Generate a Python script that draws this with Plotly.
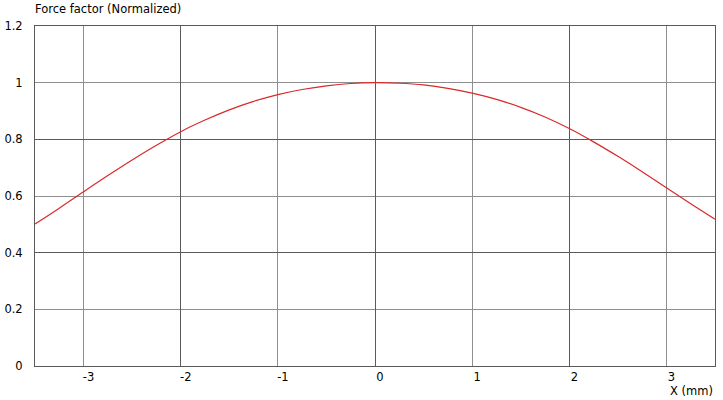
import plotly.graph_objects as go

# Force factor vs displacement
x_mm = [-3.5, -3.25, -3.0, -2.75, -2.5, -2.25, -2.0, -1.75, -1.5, -1.25,
        -1.0, -0.75, -0.5, -0.25, 0.0, 0.25, 0.5, 0.75, 1.0, 1.25,
        1.5, 1.75, 2.0, 2.25, 2.5, 2.75, 3.0, 3.25, 3.5]
force = [0.501, 0.557, 0.615, 0.672, 0.727, 0.779, 0.827, 0.868, 0.904, 0.934,
         0.958, 0.976, 0.989, 0.997, 1.000, 0.998, 0.992, 0.980, 0.963, 0.941,
         0.913, 0.879, 0.838, 0.791, 0.740, 0.686, 0.629, 0.573, 0.518]

x_ticks = [-3, -2, -1, 0, 1, 2, 3]
x_labels = ["-3", "-2", "-1", "0", "1", "2", "3"]
y_ticks = [0, 0.2, 0.4, 0.6, 0.8, 1, 1.2]
y_labels = ["0", "0.2", "0.4", "0.6", "0.8", "1", "1.2"]

font = dict(family="DejaVu Sans", size=11.5, color="#000000")
light = "#8e8e8e"
dark = "#5a5a5a"

fig = go.Figure()
fig.add_trace(go.Scatter(x=x_mm, y=force, mode="lines", line_shape="spline",
                         line=dict(color="#d92a2a", width=1.2),
                         hoverinfo="x+y", showlegend=False))
# invisible trace so the darker overlay grid gets drawn
fig.add_trace(go.Scatter(x=[x_mm[0]], y=[force[0]], xaxis="x2", yaxis="y2",
                         mode="markers", marker=dict(opacity=0),
                         hoverinfo="skip", showlegend=False))

fig.update_layout(
    width=723, height=400,
    margin=dict(l=35, r=8, t=26, b=34, autoexpand=False),
    paper_bgcolor="white", plot_bgcolor="white",
    font=font,
    xaxis=dict(range=[-3.5, 3.5], tickvals=x_ticks, ticktext=x_labels,
               showgrid=True, gridcolor=light, gridwidth=1, zeroline=False,
               showline=True, mirror=True, linecolor=dark, linewidth=1,
               ticks="", ticklabelshift=5, ticklabelstandoff=0,
               automargin=False),
    yaxis=dict(range=[0, 1.2], tickvals=y_ticks, ticktext=y_labels,
               showgrid=True, gridcolor=light, gridwidth=1, zeroline=False,
               showline=True, mirror=True, linecolor=dark, linewidth=1,
               ticks="", ticklabelstandoff=9, automargin=False),
    xaxis2=dict(range=[-3.5, 3.5], overlaying="x", tick0=0, dtick=2,
                showgrid=True, gridcolor=dark, showticklabels=False,
                zeroline=False, ticks="", automargin=False),
    yaxis2=dict(range=[0, 1.2], overlaying="y", tick0=0, dtick=0.4,
                showgrid=True, gridcolor=dark, showticklabels=False,
                zeroline=False, ticks="", automargin=False),
    annotations=[
        dict(text="Force factor (Normalized)", xref="paper", yref="paper",
             x=0, y=1, xanchor="left", yanchor="bottom", yshift=8,
             xshift=-2, showarrow=False, font=font),
        dict(text="X (mm)", xref="paper", yref="paper", x=1, y=0,
             xanchor="right", yanchor="top", yshift=-16, showarrow=False,
             font=font),
    ],
)

# drop the page's default body margin so the figure sits at the window corner
fig.write_html("out.html", config={"displayModeBar": False},
               post_script="document.body.style.margin='0';")
